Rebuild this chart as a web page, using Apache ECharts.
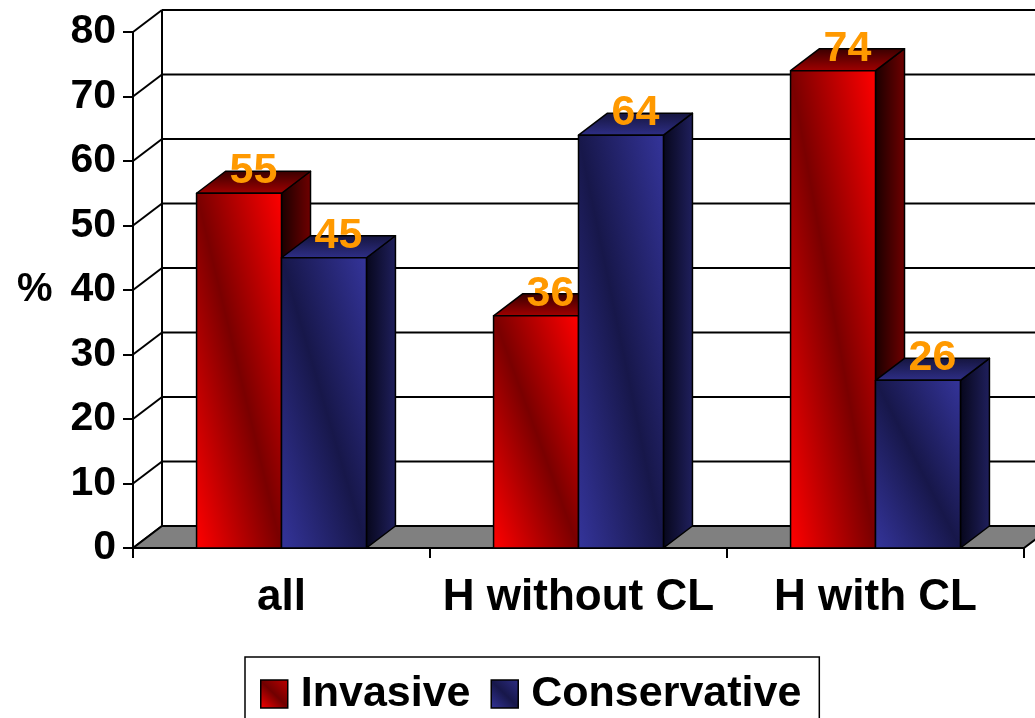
<!DOCTYPE html>
<html>
<head>
<meta charset="utf-8">
<script src="https://cdn.jsdelivr.net/npm/echarts@6/dist/echarts.min.js"></script>
<style>
html,body{margin:0;padding:0;background:#fff;}
#c{width:1035px;height:718px;}
</style>
</head>
<body>
<div id="c"></div>
<script>
const categories = ['all', 'H without CL', 'H with CL'];
const invasive = [55, 36, 74];
const conservative = [45, 64, 26];
const yTicks = [0, 10, 20, 30, 40, 50, 60, 70, 80];
const seriesNames = ['Invasive', 'Conservative'];

const FONT = "'Liberation Sans', Arial, sans-serif";
const DX = 29, DY = -22;
const BAR_RATIO = 0.286;
const G = echarts.graphic;

const palettes = {
  red: {
    bright: '#ff0000', dark: '#7a0000',
    side: ['#1a0000', '#6e0000'],
    top: ['#a00000', '#3a0000'],
  },
  blue: {
    bright: '#34349a', dark: '#17174a',
    side: ['#07071c', '#1f1f5c'],
    top: ['#2e2e86', '#15153f'],
  }
};

function diagGradient(xl, yt, xr, yb, bright, dark) {
  const w = xr - xl, h = yb - yt;
  const len = Math.sqrt(w * w + h * h);
  const L = w * h / len;
  const nx = h / len, ny = -w / len;
  const cx = (xl + xr) / 2, cy = (yt + yb) / 2;
  return new G.LinearGradient(cx - nx * L, cy - ny * L, cx + nx * L, cy + ny * L, [
    {offset: 0, color: bright},
    {offset: 0.5, color: dark},
    {offset: 1, color: bright}
  ], true);
}

function barRenderer(pal, side) {
  return function (params, api) {
    const i = api.value(0), v = api.value(1);
    const base = api.coord([i, 0]);
    const top = api.coord([i, v]);
    const band = api.size([1, 0])[0];
    const w = band * BAR_RATIO;
    const xl = side < 0 ? base[0] - w : base[0];
    const xr = xl + w;
    const yt = top[1], yb = base[1];
    const stroke = {stroke: '#000', lineWidth: 1.5, lineJoin: 'round'};
    return {
      type: 'group',
      children: [
        {
          type: 'polygon',
          shape: {points: [[xr, yt], [xr + DX, yt + DY], [xr + DX, yb + DY], [xr, yb]]},
          style: Object.assign({fill: new G.LinearGradient(xr, 0, xr + DX, 0, [
            {offset: 0, color: pal.side[0]}, {offset: 1, color: pal.side[1]}], true)}, stroke)
        },
        {
          type: 'polygon',
          shape: {points: [[xl, yt], [xl + DX, yt + DY], [xr + DX, yt + DY], [xr, yt]]},
          style: Object.assign({fill: new G.LinearGradient(0, yt, 0, yt + DY, [
            {offset: 0, color: pal.top[0]}, {offset: 1, color: pal.top[1]}], true)}, stroke)
        },
        {
          type: 'polygon',
          shape: {points: [[xl, yt], [xr, yt], [xr, yb], [xl, yb]]},
          style: Object.assign({fill: diagGradient(xl, yt, xr, yb, pal.bright, pal.dark)}, stroke)
        },
        {
          type: 'text',
          z2: 100,
          style: {
            text: String(v),
            x: (xl + xr) / 2 + DX / 2,
            y: yt + DY,
            align: 'center', verticalAlign: 'middle',
            textAlign: 'center', textVerticalAlign: 'middle',
            fill: '#ff9900',
            font: 'bold 43px ' + FONT
          }
        }
      ]
    };
  };
}

function frameRenderer(params, api) {
  const v = api.value(1);
  const cs = params.coordSys;
  const x0 = cs.x, x1 = cs.x + cs.width;
  const y = api.coord([0, v])[1];
  const line = {stroke: '#000', lineWidth: 2};
  const children = [
    {type: 'line', shape: {x1: x0, y1: y, x2: x0 + DX, y2: y + DY}, style: line}
  ];
  if (v === yTicks[0]) {
    const yTop = api.coord([0, yTicks[yTicks.length - 1]])[1];
    children.push({
      type: 'polygon',
      shape: {points: [[x0, y], [x0 + DX, y + DY], [x1 + DX, y + DY], [x1, y]]},
      style: {fill: '#808080', stroke: '#000', lineWidth: 2}
    });
    children.push({type: 'line', shape: {x1: x0 + DX, y1: yTop + DY, x2: x0 + DX, y2: y + DY}, style: line});
  } else {
    children.push({type: 'line', shape: {x1: x0 + DX, y1: y + DY, x2: x1 + DX, y2: y + DY}, style: line});
  }
  return {type: 'group', children: children};
}

const legendRed = new G.LinearGradient(0, 1, 1, 0, [
  {offset: 0, color: '#ff0000'}, {offset: 0.5, color: '#700000'}, {offset: 1, color: '#c00000'}]);
const legendBlue = new G.LinearGradient(0, 1, 1, 0, [
  {offset: 0, color: '#34349a'}, {offset: 0.5, color: '#17174a'}, {offset: 1, color: '#2e2e86'}]);

const chart = echarts.init(document.getElementById('c'), null, {renderer: 'canvas'});
chart.setOption({
  backgroundColor: '#fff',
  animation: false,
  grid: {left: 133, right: 11, top: 32, bottom: 170},
  xAxis: {
    type: 'category',
    data: categories,
    axisLine: {lineStyle: {color: '#000', width: 2}},
    axisTick: {show: true, interval: 0, length: 10, lineStyle: {color: '#000', width: 2}},
    axisLabel: {interval: 0, hideOverlap: false, color: '#000', fontSize: 44, fontWeight: 'bold', fontFamily: FONT, margin: 28},
    splitLine: {show: false}
  },
  yAxis: {
    type: 'value',
    min: 0, max: 80, interval: 10,
    axisLine: {show: true, lineStyle: {color: '#000', width: 2}},
    axisTick: {show: true, length: 10, lineStyle: {color: '#000', width: 2}},
    axisLabel: {color: '#000', fontSize: 41, fontWeight: 'bold', fontFamily: FONT, margin: 17},
    splitLine: {show: false}
  },
  legend: {
    left: 245, top: 657,
    data: [
      {name: seriesNames[0], itemStyle: {color: legendRed, borderColor: '#000', borderWidth: 1.5}},
      {name: seriesNames[1], itemStyle: {color: legendBlue, borderColor: '#000', borderWidth: 1.5}}
    ],
    icon: 'rect',
    itemWidth: 27, itemHeight: 28, itemGap: 20,
    padding: [12, 18, 40, 15],
    borderColor: '#000', borderWidth: 1.5, backgroundColor: '#fff',
    textStyle: {color: '#000', fontSize: 43, fontWeight: 'bold', fontFamily: FONT, lineHeight: 50, padding: [0, 0, 0, 8]}
  },
  graphic: [{
    type: 'text', left: 17, top: 270,
    style: {text: '%', fill: '#000', font: 'bold 40px ' + FONT}
  }],
  series: [
    {
      type: 'custom', name: 'frame', z: 1, silent: true,
      renderItem: frameRenderer,
      data: yTicks.map(v => [0, v]),
      encode: {x: 0, y: 1}
    },
    {
      type: 'custom', name: seriesNames[0], z: 2,
      itemStyle: {color: legendRed},
      renderItem: barRenderer(palettes.red, -1),
      data: invasive.map((v, i) => [i, v]),
      encode: {x: 0, y: 1}
    },
    {
      type: 'custom', name: seriesNames[1], z: 2,
      itemStyle: {color: legendBlue},
      renderItem: barRenderer(palettes.blue, 1),
      data: conservative.map((v, i) => [i, v]),
      encode: {x: 0, y: 1}
    }
  ]
});
</script>
</body>
</html>
